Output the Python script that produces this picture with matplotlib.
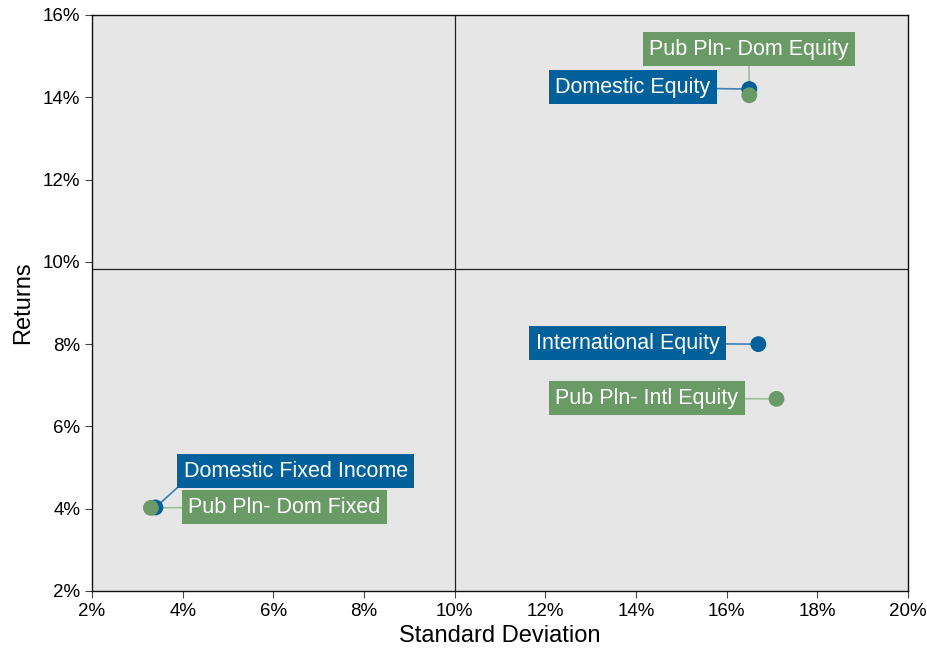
import matplotlib.pyplot as plt
from matplotlib.ticker import FuncFormatter

plt.rcParams['font.family'] = ['Liberation Sans', 'DejaVu Sans']

# Risk / return points (percent)
names = ["Domestic Equity", "Pub Pln- Dom Equity", "International Equity",
         "Pub Pln- Intl Equity", "Domestic Fixed Income", "Pub Pln- Dom Fixed"]
std_dev = [16.5, 16.5, 16.7, 17.1, 3.4, 3.3]
returns = [14.2, 14.05, 8.0, 6.67, 4.03, 4.02]
label_x = [13.93, 16.49, 13.82, 14.24, 6.5, 6.24]
label_y = [14.3, 15.23, 8.08, 6.75, 4.97, 4.1]
groups = ["blue", "green", "blue", "green", "blue", "green"]
# where the leader line leaves the label box
anchors = [(0.5, 0.5), (0.5, 0.5), (0.5, 0.5), (0.5, 0.5), (0.0, 0.0), (0.5, 0.5)]

# Quadrant dividers
x_div = 10.0
y_div = 9.83

colors = {"blue": "#02609a", "green": "#6a9a66"}
line_colors = {"blue": "#3a7fb5", "green": "#9cbf99"}

fig = plt.figure(figsize=(9.28, 6.52), dpi=100)
ax = fig.add_axes([0.0991, 0.0936, 0.8793, 0.8834])
ax.set_facecolor("#e6e6e6")

ax.axvline(x_div, color="#222222", lw=0.9, zorder=1)
ax.axhline(y_div, color="#222222", lw=0.9, zorder=1)

for g in ["blue", "green"]:
    for i in range(len(names)):
        if groups[i] != g:
            continue
        ax.annotate(names[i], xy=(std_dev[i], returns[i]),
                    xytext=(label_x[i], label_y[i]),
                    ha="center", va="center_baseline", fontsize=15.5, color="white",
                    bbox=dict(boxstyle="square,pad=0.3", fc=colors[g], ec="none"),
                    arrowprops=dict(arrowstyle="-", color=line_colors[g], lw=1.2,
                                    shrinkA=0, shrinkB=0, relpos=anchors[i]),
                    zorder=3)
        ax.scatter(std_dev[i], returns[i], s=130, color=colors[g], zorder=4,
                   edgecolors="none")

ax.set_xlim(2, 20)
ax.set_ylim(2, 16)
ax.set_xticks(range(2, 21, 2))
ax.set_yticks(range(2, 17, 2))
pct = FuncFormatter(lambda v, p: f"{v:.0f}%")
ax.xaxis.set_major_formatter(pct)
ax.yaxis.set_major_formatter(pct)
ax.tick_params(labelsize=13.5, length=5, color="#444444")

for s in ax.spines.values():
    s.set_color("#111111")
    s.set_linewidth(1.0)

ax.set_xlabel("Standard Deviation", fontsize=17, labelpad=4)
ax.set_ylabel("Returns", fontsize=17, labelpad=6)

fig.savefig("out.png", dpi=100)
